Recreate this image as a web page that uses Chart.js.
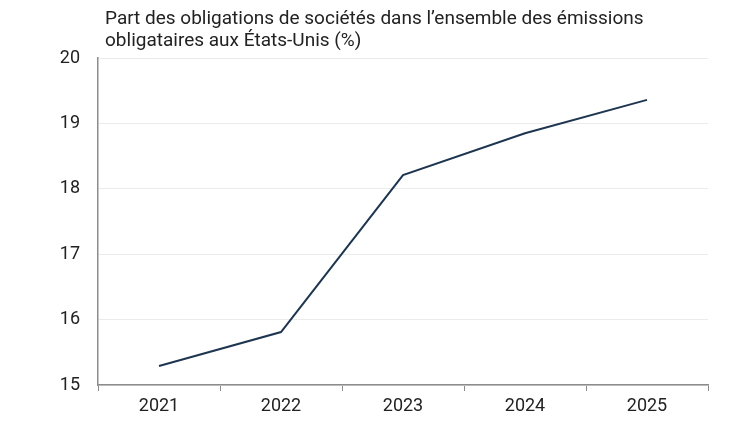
<!DOCTYPE html>
<html>
<head>
<meta charset="utf-8">
<script src="https://cdn.jsdelivr.net/npm/chart.js"></script>
<style>
  html, body { margin: 0; padding: 0; background: #fff; }
  #wrap { position: relative; width: 750px; height: 422px; }
  #title {
    position: absolute; left: 105px; top: 7px;
    font-family: Roboto, sans-serif; font-size: 19px; line-height: 22px; color: #222;
  }
</style>
</head>
<body>
<div id="wrap">
  <div id="title">Part des obligations de sociétés dans l’ensemble des émissions<br>obligataires aux États-Unis (%)</div>
  <canvas id="chart" width="750" height="422"></canvas>
</div>
<script>
const years = ['2021', '2022', '2023', '2024', '2025'];
const corporateShare = [15.29, 15.81, 18.21, 18.85, 19.36];
const yTicks = [15, 16, 17, 18, 19, 20];

const axisColor = '#8c8c8c';
const tickFont = { family: 'Roboto, sans-serif', size: 18 };

new Chart(document.getElementById('chart'), {
  type: 'line',
  data: {
    labels: years,
    datasets: [{
      data: corporateShare,
      borderColor: '#1e3550',
      borderWidth: 2,
      pointRadius: 0,
      tension: 0,
    }],
  },
  options: {
    responsive: false,
    animation: false,
    layout: { padding: { top: 58, left: 0, right: 42, bottom: 0 } },
    plugins: { legend: { display: false }, tooltip: { enabled: false } },
    scales: {
      x: {
        offset: true,
        afterFit(scale) { scale.height = 37; },
        grid: {
          drawOnChartArea: false, drawTicks: true, tickLength: 6, offset: true, color: axisColor,
        },
        border: { color: axisColor, width: 1.5 },
        ticks: { color: '#222', font: tickFont, padding: 5 },
      },
      y: {
        min: 15,
        max: 20,
        afterFit(scale) { scale.width = 98; },
        afterBuildTicks(scale) { scale.ticks = yTicks.map((v) => ({ value: v })); },
        grid: { color: '#ebebeb', drawTicks: false },
        border: { color: axisColor, width: 1.5 },
        ticks: { color: '#222', font: tickFont, padding: 18 },
      },
    },
  },
});
</script>
</body>
</html>
